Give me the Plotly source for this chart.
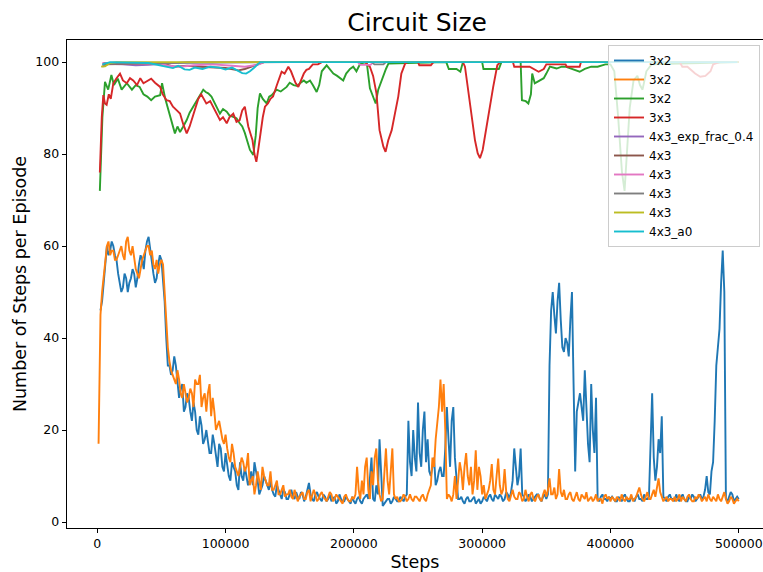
import plotly.graph_objects as go

# ---------------- data ----------------
# main sampling grid and the in-between samples (steps)
steps_grid = list(range(2500, 500001, 2500))
steps_mid = list(range(3750, 498751, 2500))

blue_3x2 = [
    46, 52, 60, 59, 60, 57, 52, 51, 53, 52, 55, 51, 56, 57, 59, 62, 57, 52, 56, 57,
    48, 34, 32, 36, 31, 29, 24, 28, 24, 26, 20, 23, 17, 20, 15, 19, 14, 17, 12, 15,
    10, 13, 11, 7, 10, 12, 8, 11, 13, 9, 7, 10, 8, 9, 6, 8, 6, 7, 5, 6,
    5.5, 6.5, 5, 6, 5.5, 8.5, 5, 6, 5.5, 4.5, 5.5, 5, 4.5, 5.5, 4.5, 5, 4.5, 5, 4, 4.5,
    5, 4.5, 5, 6, 10, 5, 8, 18, 3.5, 4.5, 5, 4.5, 5, 4.5, 5, 5.5, 22, 10, 14, 26,
    12, 24, 18, 10, 14, 9, 12, 10, 25, 12, 25, 9, 5, 4.5, 5, 4.5, 5, 4, 5, 4.5,
    5, 5.5, 5, 6, 5, 5.5, 5, 6, 6.5, 16, 8, 16, 5.5, 5, 5.5, 5, 6, 5, 5.5, 5,
    34, 50, 41, 52, 38, 40, 36, 50, 11, 26, 25, 33, 17, 30, 15, 5, 5.5, 5, 4.5, 5,
    5, 4.5, 5, 5.5, 5, 4.5, 5, 5.5, 5, 4.5, 5, 5.5, 28, 9, 18, 23, 5, 5.5, 5, 4.5,
    5, 5.5, 5, 4.5, 5, 5.5, 5, 6, 5.5, 10, 6, 13, 34, 42, 59, 5, 5.5, 6, 5, 5,
]
blue_3x2_mid = [
    48, 56, 58, 61, 58, 54, 50, 54, 50, 53, 54, 53, 58, 55, 61, 59, 54, 53, 58,
    52, 40, 34, 33, 34, 27, 30, 25, 27, 22, 24, 19, 21, 18, 17, 15, 17, 12, 16, 11,
    12, 9, 12, 8, 13, 9, 10, 9, 8, 11, 6, 8, 9, 7, 7, 5.5, 7, 5, 6.5, 5,
    7, 5, 5.5, 6.5, 4.5, 7, 6, 4.5, 6.5, 5, 6, 4.5, 6, 5, 4, 6, 4.5, 5.5, 4.5, 5.5,
    4, 5.5, 4, 5.5, 5, 14, 4.5, 6, 11, 4, 5, 4, 5.5, 4.5, 5.5, 4.5, 6, 13, 20, 11,
    15, 20, 13, 11, 12, 8, 11, 10, 16, 18, 22, 14, 5, 5.5, 4, 5.5, 4.5, 5.5, 4.5, 4,
    5.5, 4.5, 6, 4.5, 5.5, 6, 4.5, 6.5, 5, 9, 12, 10, 6, 4.5, 6, 4.5, 5.5, 6, 4.5, 6,
    6, 46, 45, 48, 44, 37, 39, 44, 30, 24, 28, 22, 25, 13, 20, 27, 4.5, 6, 5, 5.5,
    5.5, 4.5, 5.5, 4.5, 6, 4.5, 5.5, 4.5, 6, 5, 6, 5, 20, 14, 12, 15, 5.5, 4.5, 6, 5,
    6, 4.5, 6, 4.5, 5.5, 6, 4.5, 5.5, 5, 7, 6.5, 11, 22, 38, 52, 50, 4.5, 6.5, 4.5, 5.5,
]

orange_start_step = [1000]
orange_start_val = [17]
orange_3x2 = [
    45, 53, 60, 58, 59, 57, 59, 58, 61, 59, 60, 55, 53, 57, 59, 60, 59, 55, 54, 57,
    50, 38, 33, 31, 33, 28, 30, 26, 29, 25, 30, 32, 27, 24, 30, 27, 20, 22, 18, 19,
    14, 17, 12, 10, 14, 11, 15, 9, 6, 11, 7, 10, 8, 11, 7, 9, 6, 8, 6, 7,
    5, 6, 5.5, 6.5, 5, 7, 5.5, 6, 5, 6.5, 5, 5.5, 6, 5, 5.5, 4.5, 5.5, 5, 4.5, 5,
    12, 5, 6, 14, 5, 8, 16, 6, 5, 16, 6, 16, 5, 4.5, 5, 5.5, 5, 5, 5.5, 5,
    5.5, 5, 6, 8, 12, 22, 31, 30, 5, 5.5, 6, 5, 13, 7, 15, 8, 6, 15.6, 12, 6,
    5, 7, 12.6, 6, 13.8, 6, 11.5, 5, 6, 5.5, 5, 6, 5, 5.5, 6, 5, 5.5, 5, 6, 5.5,
    9.5, 6, 5, 11.5, 5.5, 5, 6, 5, 5.5, 5, 6, 5, 4.5, 5.5, 5, 4.5, 5, 5.5, 5, 4.5,
    5, 5.5, 4.5, 5, 5.5, 5, 4.5, 5.5, 7.5, 5, 5.5, 5, 6, 5.5, 9.5, 5.5, 5, 4.5, 5, 5.5,
    5, 4.5, 5, 5.5, 5, 4.5, 5, 5.5, 5, 4.5, 5, 5.5, 4.5, 5, 5.5, 5, 4.5, 5, 4.5, 4.5,
]
orange_3x2_mid = [
    50, 57, 61, 59, 57, 58, 60, 57, 62, 58, 57, 54, 55, 58, 60, 58, 56, 57, 56,
    56, 44, 35, 32, 30, 31, 27, 28, 27, 28, 31, 30, 25, 28, 28, 23, 24, 21, 20, 17,
    16, 13, 15, 11, 12, 13, 12, 8, 10, 8, 9, 12, 9, 8, 7, 8, 6, 7, 5.5, 6,
    5.5, 7, 4.5, 6, 5, 6.5, 4.5, 7, 4.5, 6, 5.5, 4.5, 6.5, 4.5, 6, 5, 4, 6, 4.5, 5.5,
    6, 7, 9, 12, 7, 11, 14, 9, 4.5, 10, 9, 11, 6, 5.5, 4.5, 6, 4.5, 6, 4.5, 5.5,
    4.5, 6, 4.5, 7, 14, 18, 25, 24, 20, 6, 4.5, 10, 9, 11, 12, 10, 12, 9, 7, 10,
    8, 6, 9, 7, 10, 8, 7, 6.5, 4.5, 7, 5, 6.5, 4.5, 7, 4.5, 6.5, 4.5, 6, 4.5, 7,
    7, 6, 7.5, 6, 6.5, 7, 5, 6.5, 4.5, 6.5, 4.5, 5.5, 6.5, 5, 4.5, 6, 5, 4, 6, 5.5,
    5.5, 4.5, 5, 6, 4.5, 5, 6, 5, 6.5, 6, 4.5, 6.5, 5, 7, 7.5, 6.5, 4.5, 5.5, 5, 4.5,
    4.5, 6, 5.5, 4.5, 6, 4.5, 5.5, 6, 4.5, 5.5, 6, 4.5, 5, 6, 4.5, 6.5, 4, 5.5, 4, 5,
]

# step positions in thousands, values
green_k = [2, 4, 6, 8.5, 11, 13, 16, 19, 23, 27, 30, 33, 36, 39, 42, 45, 49, 50.5, 53, 56.7,
           59, 60.5, 62.5, 64.5, 67, 69.7, 72, 75, 77.5, 80, 82.6, 84.5, 86.5, 89, 91.7, 93.5, 95.6, 98, 100.9, 103,
           106, 108.5, 111, 113, 115, 117, 119, 121.6, 123.5, 125, 126.8, 129, 132, 134, 136, 139.8, 143, 147.6, 150, 153,
           156, 158, 161, 163, 165.8, 168, 171, 173, 175, 178.8, 181, 184, 187, 191.7, 194, 197, 199.5, 202, 205, 210,
           212.5, 215, 217, 219, 221, 223, 225, 227, 272, 274, 280, 283, 285, 300, 301, 313, 315, 330, 331, 334,
           336, 338, 339, 341, 345, 348, 350, 352.8, 358, 362, 365, 370, 376, 380, 385, 390, 396, 400, 403, 406,
           409, 411, 413, 415, 418, 421, 423, 425, 428, 432, 500]
green_3x2 = [72, 88, 95.7, 94, 97.2, 95, 96.4, 94, 95.4, 94, 95, 94.6, 93, 92.5, 91.7, 92.5, 92.8, 95.4, 92, 88,
             86, 84.5, 86, 84.8, 86, 87.4, 89, 90.5, 91.7, 93, 94, 93.5, 93.2, 92.5, 91, 90, 88.8, 89.8, 89.2, 88.4,
             88.1, 87.8, 86.7, 86, 84.6, 83, 80.9, 79.8, 84, 90, 93.2, 92, 91, 92.5, 92.8, 94, 93.6, 94.6, 95.5, 95,
             94.8, 95.4, 96, 95.5, 96, 95, 93.5, 95, 98, 99.3, 98.5, 97.5, 97, 96, 97.5, 98.5, 99, 98, 99.7, 100,
             94.3, 92.5, 91, 94, 95.5, 97.2, 98.5, 99.7, 100, 98.5, 98.5, 97.9, 100, 100, 98.5, 98.5, 100, 100, 91.7, 91.5,
             91, 93, 97.5, 95.4, 96, 96.5, 97.5, 99, 98.6, 99, 99, 98.5, 97.9, 98.5, 99, 99, 99.5, 99.5, 98, 88,
             76, 72, 80, 90, 96, 97, 95, 94, 98, 99.5, 100]

red_k = [2, 3.5, 4.7, 6, 7.3, 9, 10.5, 12.5, 15, 17.7, 20, 23, 25.5, 28, 31, 33.5, 36, 39, 42, 45,
         49, 51, 54, 56.5, 59, 62, 64.5, 67, 69.7, 72, 73.6, 76, 78.7, 81, 83, 85, 88, 90.4, 93, 95.6,
         98, 100.9, 103, 106, 108.5, 111, 113, 115, 117.7, 119.5, 121, 122.5, 124, 125.5, 126.8, 129, 130.7, 133, 135, 137,
         140, 143.7, 146, 148.9, 151, 152.8, 154.5, 156.7, 159, 161, 163, 165, 168, 172, 175, 208.6, 212.5, 215, 217.6, 220,
         223, 224.7, 226.8, 229.5, 232, 234.6, 237, 240, 242, 250, 251, 260, 262, 285, 286.6, 289, 291.8, 294.4, 296.5, 298.3,
         300.4, 303, 305.5, 308.6, 311.8, 314, 324, 325, 337, 340, 344, 348, 350, 365, 366, 376, 377, 454, 456, 460,
         466, 470, 474, 478, 480, 485, 500]
red_3x3 = [76, 88, 92.8, 91, 90.7, 93, 92, 95.4, 96.5, 97.5, 96, 95.4, 96.5, 96, 95, 96.5, 95.4, 96, 96.4, 95.5,
           94.6, 93, 91.7, 91.5, 90.3, 89.5, 88.8, 86.5, 84.5, 86, 87.4, 90, 92, 93, 92, 91, 91.5, 90.3, 89, 87.4,
           88, 86.7, 88, 88.8, 87, 87.4, 89.5, 90.3, 86, 84.5, 83, 80, 78.3, 81, 83.8, 88, 90.3, 91, 92, 92.5,
           95, 97.9, 97.5, 99, 98, 96.8, 95.5, 94.6, 96, 97.5, 98.3, 98.5, 99.5, 99.5, 100, 100, 99, 97, 93.2, 85.2,
           81.6, 80.5, 83, 85.2, 88.8, 92.5, 97.5, 99.7, 100, 100, 99.3, 99.3, 100, 100, 99, 94, 88.1, 83, 80.2, 79.1,
           80.9, 85.2, 90.3, 94.6, 99.3, 100, 100, 99, 99, 98.5, 97.9, 98.5, 99.5, 99.5, 99, 99, 100, 100, 99, 99,
           97.5, 96.8, 97, 98, 99.5, 100, 100]

purple_k = [4, 8, 20, 30, 40, 50, 60, 70, 500]
purple_exp = [99, 99.6, 99.5, 99.3, 99.4, 99.6, 99.8, 100, 100]

brown_k = [4, 50, 60, 70, 80, 100, 110, 115, 125, 130, 500]
brown_4x3 = [99.5, 99.7, 99, 99.2, 99, 98.7, 98.2, 98.5, 99.5, 100, 100]

pink_k = [4, 50, 55, 65, 75, 90, 105, 115, 125, 130, 203, 205, 213, 215, 500]
pink_4x3 = [99.8, 99.6, 99.2, 99, 99.3, 99.5, 99.2, 99, 99.4, 100, 100, 99.4, 99.4, 100, 100]

grey_k = [5, 50, 150, 214, 216, 223, 225, 500]
grey_4x3 = [99.7, 99.8, 100, 100, 99.5, 99.5, 100, 100]

olive_k = [3, 6, 10, 15, 500]
olive_4x3 = [99, 99.1, 99.8, 100, 100]

cyan_k = [4, 10, 40, 50, 55, 59, 63, 68, 72, 76, 82, 88, 95, 100, 105, 110, 113, 116, 119, 122, 125, 127, 499]
cyan_a0 = [99.5, 100, 99.8, 99.3, 99, 98.7, 99.2, 98.4, 98.3, 98.8, 98.5, 99, 98.8, 98.4, 98.8, 98, 97.6, 97.5, 98, 98.7, 99.5, 100, 100]

x_ticks = [0, 100000, 200000, 300000, 400000, 500000]
y_ticks = [0, 20, 40, 60, 80, 100]


def merged(xa, ya, xb, yb):
    pts = sorted(zip(list(xa) + list(xb), list(ya) + list(yb)))
    return [p[0] for p in pts], [p[1] for p in pts]


bx, by = merged(steps_grid, blue_3x2, steps_mid, blue_3x2_mid)
ox, oy = merged(orange_start_step + steps_grid, orange_start_val + orange_3x2,
                steps_mid, orange_3x2_mid)


def k2s(ks):
    return [k * 1000 for k in ks]


series = [
    ("3x2", bx, by, "#1f77b4"),
    ("3x2", ox, oy, "#ff7f0e"),
    ("3x2", k2s(green_k), green_3x2, "#2ca02c"),
    ("3x3", k2s(red_k), red_3x3, "#d62728"),
    ("4x3_exp_frac_0.4", k2s(purple_k), purple_exp, "#9467bd"),
    ("4x3", k2s(brown_k), brown_4x3, "#8c564b"),
    ("4x3", k2s(pink_k), pink_4x3, "#e377c2"),
    ("4x3", k2s(grey_k), grey_4x3, "#7f7f7f"),
    ("4x3", k2s(olive_k), olive_4x3, "#bcbd22"),
    ("4x3_a0", k2s(cyan_k), cyan_a0, "#17becf"),
]

# ---------------- figure ----------------
FONT = "DejaVu Sans"
fig = go.Figure()
for i, (name, xs, ys, col) in enumerate(series):
    fig.add_trace(go.Scatter(x=xs, y=ys, mode="lines", name=name,
                             legendgroup=f"g{i}",
                             line=dict(color=col, width=1.9)))

W, H = 763, 572
L, R, T, B = 67, 0, 40, 44
PH = H - T - B
fig.update_layout(
    width=W, height=H,
    margin=dict(l=L, r=R, t=T, b=B, autoexpand=False),
    paper_bgcolor="white", plot_bgcolor="white",
    font=dict(family=FONT, size=12.5, color="black"),
    title=dict(text="Circuit Size", font=dict(family=FONT, size=25, color="black"),
               x=0.503, xref="paper", xanchor="center",
               y=1 - 22 / H, yref="container", yanchor="middle"),
    showlegend=True,
    legend=dict(x=(608 - L) / (W - L - R), y=1 - 5 / PH,
                xanchor="left", yanchor="top",
                bgcolor="rgba(255,255,255,0.8)", bordercolor="#cccccc", borderwidth=1,
                font=dict(family=FONT, size=12, color="black"),
                tracegroupgap=0, traceorder="normal"),
)
fig.update_xaxes(
    range=[-23600, 518900], tickmode="array", tickvals=x_ticks,
    ticktext=[str(v) for v in x_ticks],
    ticks="outside", ticklen=4.4, tickwidth=1, tickcolor="black",
    showline=True, mirror=True, linecolor="black", linewidth=1,
    showgrid=False, zeroline=False,
    tickfont=dict(family=FONT, size=12.5, color="black"),
    title=dict(text="Steps", font=dict(family=FONT, size=17.5, color="black")),
)
fig.update_yaxes(
    range=[-1.3, 104.8], tickmode="array", tickvals=y_ticks,
    ticktext=[str(v) for v in y_ticks],
    ticks="outside", ticklen=4.4, tickwidth=1, tickcolor="black",
    showline=True, mirror=False, linecolor="black", linewidth=1,
    showgrid=False, zeroline=False,
    tickfont=dict(family=FONT, size=12.5, color="black"),
    title=dict(text="Number of Steps per Episode", standoff=4,
               font=dict(family=FONT, size=17.5, color="black")),
)

fig.write_html("out.html")
